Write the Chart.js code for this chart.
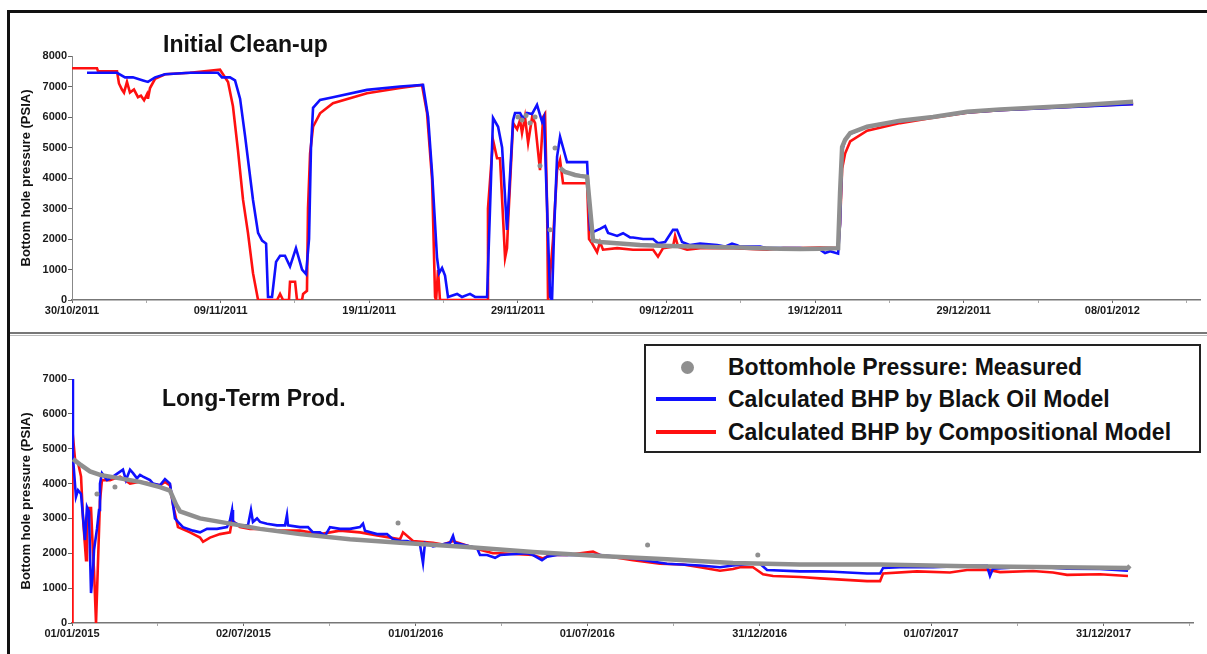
<!DOCTYPE html>
<html><head><meta charset="utf-8">
<script src="https://cdn.jsdelivr.net/npm/chart.js@4.4.0/dist/chart.umd.min.js"></script>
<style>
html,body{margin:0;padding:0;background:#fff;}
body{width:1207px;height:654px;position:relative;overflow:hidden;font-family:"Liberation Sans",Arial,sans-serif;}
canvas{position:absolute;left:0;}
#c1{top:0;}
#c2{top:336px;}
.fr{position:absolute;background:#111;}
.title{position:absolute;font-weight:bold;font-size:23px;line-height:23px;color:#111;white-space:nowrap;}
#legend{position:absolute;left:644px;top:344px;width:553px;height:105px;border:2px solid #222;background:#fff;}
#legend .txt{position:absolute;left:82px;font-weight:bold;font-size:23px;line-height:26px;color:#111;white-space:nowrap;}
#legend .dot{position:absolute;width:13px;height:13px;border-radius:50%;}
#legend .ln{position:absolute;left:10px;width:60px;height:4px;}
</style>
</head><body>
<canvas id="c1" width="1207" height="333"></canvas>
<canvas id="c2" width="1207" height="318"></canvas>
<div class="fr" style="left:7px;top:10px;width:1200px;height:3px;"></div>
<div class="fr" style="left:7px;top:10px;width:3px;height:644px;"></div>
<div class="fr" style="left:10px;top:332px;width:1197px;height:2px;background:#777;"></div>
<div class="fr" style="left:10px;top:335px;width:1197px;height:1px;background:#bbb;"></div>
<div class="title" id="t1" style="left:163px;top:33px;"></div>
<div class="title" id="t2" style="left:162px;top:387px;"></div>
<div id="legend"></div>
<script>
// ---------- labels ----------
const seriesNames = ['Bottomhole Pressure: Measured', 'Calculated BHP by Black Oil Model', 'Calculated BHP by Compositional Model'];
const panelTitles = ['Initial Clean-up', 'Long-Term Prod.'];
const yAxisTitle = 'Bottom hole pressure (PSIA)';
const seriesColors = ['#8f8f8f', '#1010ff', '#ff1010'];

// ---------- top panel: x = days since 30/10/2011 ----------
const topStart = '30/10/2011';
const topTickLabels = ['30/10/2011','09/11/2011','19/11/2011','29/11/2011','09/12/2011','19/12/2011','29/12/2011','08/01/2012'];
const topXMax = 75.9;
const topYMax = 8000;

const topBlackOil = [[1.01,7450],[3.03,7450],[3.57,7300],[4.10,7300],[4.78,7200],[5.11,7150],[5.59,7300],[6.26,7400],[7.94,7450],[9.82,7450],[10.09,7300],[10.63,7300],[10.97,7200],[11.31,6600],[11.64,5400],[12.18,3280],[12.52,2200],[12.79,1950],[13.06,1850],[13.19,100],[13.46,100],[13.73,1250],[14.00,1450],[14.33,1450],[14.67,1100],[15.07,1700],[15.48,1000],[15.75,850],[15.95,2000],[16.08,5000],[16.22,6300],[16.69,6560],[17.56,6650],[19.85,6890],[22.07,7000],[23.62,7050],[23.96,6000],[24.23,4160],[24.56,1400],[24.70,880],[24.90,1050],[25.10,800],[25.30,100],[25.91,200],[26.24,100],[26.78,200],[27.12,100],[27.93,100],[28.33,5970],[28.67,5680],[28.94,5000],[29.27,2300],[29.68,5900],[29.81,6130],[30.15,6130],[30.35,5950],[30.62,6130],[30.96,6100],[31.29,6400],[31.63,5840],[31.76,6000],[31.97,3000],[32.17,100],[32.30,0],[32.44,2300],[32.64,4700],[32.84,5350],[33.04,5000],[33.31,4520],[34.66,4520],[34.86,2300],[35.06,2230],[35.53,2330],[35.87,2420],[36.07,2200],[36.68,2100],[37.08,2190],[37.55,2050],[37.75,2050],[38.43,2000],[39.10,2000],[39.43,1860],[39.91,1900],[40.44,2300],[40.71,2300],[41.05,1900],[41.59,1800],[42.26,1850],[43.41,1800],[43.94,1750],[44.41,1850],[44.75,1800],[44.95,1750],[46.30,1750],[46.77,1700],[48.99,1700],[50.34,1650],[50.67,1540],[51.01,1600],[51.55,1520],[51.68,2500],[51.82,4900],[52.02,5250],[52.36,5450],[53.50,5680],[55.72,5850],[57.94,6000],[60.23,6150],[62.45,6220],[66.96,6320],[71.40,6420]];

const topCompositional = [[0,7600],[1.68,7600],[1.75,7500],[3.03,7500],[3.16,7100],[3.36,6900],[3.50,6800],[3.70,7150],[3.90,6800],[4.17,6900],[4.44,6650],[4.64,6700],[4.85,6550],[5.05,6750],[5.11,6600],[5.25,6950],[5.59,7250],[6.26,7400],[7.94,7450],[9.96,7550],[10.16,7400],[10.50,7150],[10.83,6350],[11.17,4900],[11.51,3280],[11.84,2200],[12.18,880],[12.52,0],[13.80,0],[14.00,200],[14.20,0],[14.60,0],[14.67,600],[15.01,600],[15.14,0],[15.48,0],[15.55,200],[15.81,300],[15.88,3000],[16.02,4800],[16.22,5680],[16.69,6120],[17.56,6450],[19.85,6780],[22.07,6950],[23.55,7050],[23.89,6130],[24.23,3935],[24.43,100],[24.50,0],[24.63,980],[24.76,0],[27.93,0],[27.99,3000],[28.33,5250],[28.60,4650],[28.80,4650],[29.14,1380],[29.27,1700],[29.34,2500],[29.68,5800],[29.95,5600],[30.15,5900],[30.28,5470],[30.48,6000],[30.69,5150],[30.96,6000],[31.16,5800],[31.49,4260],[31.70,6000],[31.83,6100],[31.97,3000],[32.03,0],[32.37,2000],[32.64,4260],[32.84,4590],[33.04,3830],[34.66,3830],[34.79,2000],[34.99,1860],[35.33,1570],[35.53,1900],[35.73,1650],[36.68,1700],[37.75,1650],[39.10,1650],[39.43,1420],[39.77,1700],[40.44,1750],[40.58,2100],[40.78,1750],[41.39,1650],[42.26,1700],[44.48,1700],[46.77,1650],[47.85,1700],[48.99,1700],[50.34,1720],[51.55,1700],[51.68,2500],[51.82,4300],[52.02,4800],[52.36,5200],[53.50,5550],[55.72,5800],[57.94,5980],[60.23,6140],[62.45,6220],[66.96,6330],[71.40,6430]];

const topMeasured = [[32.84,4330],[33.18,4200],[33.51,4150],[33.85,4100],[34.19,4070],[34.66,4040],[34.86,3000],[35.06,1950],[35.53,1900],[36.88,1850],[38.22,1800],[39.57,1780],[40.92,1760],[42.26,1750],[43.61,1730],[44.95,1720],[46.30,1700],[47.64,1680],[48.99,1670],[50.34,1680],[51.55,1700],[51.68,3500],[51.82,5020],[52.02,5250],[52.36,5470],[53.50,5680],[55.72,5880],[57.94,6000],[60.23,6170],[62.45,6250],[66.96,6360],[71.40,6500]];
const topMeasuredDots = [[30.01,6000],[30.28,5900],[30.55,6050],[30.82,5800],[31.16,6000],[31.49,4400],[32.17,2300],[32.50,4980]];

// ---------- bottom panel: x = days since 01/01/2015 ----------
const botStart = '01/01/2015';
const botTickLabels = ['01/01/2015','02/07/2015','01/01/2016','01/07/2016','31/12/2016','01/07/2017','31/12/2017'];
const botXMax = 1190;
const botYMax = 7000;

const botBlackOil = [[0,7000],[1,4760],[4.2,3620],[6.4,3810],[9.6,3700],[11.7,3040],[13.8,2380],[15.9,3330],[18.0,3200],[20.2,860],[22.3,1500],[23.4,2100],[26.5,2700],[28.7,3240],[29.7,4000],[31.8,4300],[37.2,4100],[43.5,4200],[48.8,4300],[54.1,4400],[57.3,4100],[61.6,4400],[64.8,4300],[69,4150],[72.2,4250],[75.4,4200],[82.8,4100],[86,4000],[93.4,3950],[98.7,4130],[104,4000],[107.2,3400],[109.3,3000],[112.5,2900],[117.8,2750],[128.5,2650],[135.9,2600],[143.3,2700],[153.9,2700],[164.5,2750],[167.7,2950],[169.9,3240],[170.9,2900],[178.3,2800],[186.8,2800],[190,3240],[192.1,2900],[196.4,3000],[199.6,2900],[207,2850],[217.6,2800],[226.1,2800],[228.2,3100],[229.3,2800],[242,2750],[250.5,2750],[255.8,2600],[263.3,2600],[268.6,2500],[273.9,2750],[284.5,2700],[295.1,2700],[305.7,2750],[308.9,2850],[311,2650],[323.8,2550],[334.4,2550],[340.8,2400],[348.2,2350],[355.6,2350],[369.4,2250],[372.6,1720],[374.7,2300],[383.2,2200],[401.3,2300],[404.5,2500],[406.6,2300],[429.9,2150],[433.1,1950],[440.6,1950],[449.1,1870],[454.4,1950],[483,2000],[489.4,1950],[498.9,1800],[504.2,1900],[514.9,1950],[546.7,1950],[560.5,1950],[595.5,1850],[631.6,1700],[666.7,1650],[687.9,1600],[701.7,1650],[722.9,1700],[730.4,1700],[737.8,1520],[772.8,1480],[794.1,1480],[807.9,1470],[844,1420],[857.8,1420],[861,1580],[879,1600],[914,1600],[950.1,1640],[971.3,1640],[974.5,1350],[977.7,1560],[1020.2,1620],[1056.3,1560],[1091.3,1550],[1121,1500]];

const botCompositional = [[0,0],[0.5,5500],[3.2,4700],[6.4,4600],[9.6,4200],[11.7,3000],[14.9,1800],[15.9,2700],[18.0,3300],[20.2,3300],[22.3,2000],[23.4,1500],[25.5,0],[26.5,0],[29.7,3500],[31.8,4100],[40.3,4100],[51,4200],[61.6,4000],[72.2,4050],[82.8,4000],[93.4,3950],[98.7,4050],[104,3950],[107.2,3400],[112.5,2750],[125.3,2600],[135.9,2450],[139.1,2330],[146.5,2450],[157.1,2550],[167.7,2600],[169.9,2950],[178.3,2750],[189,2700],[199.6,2700],[220.8,2650],[242,2650],[263.3,2550],[284.5,2650],[305.7,2600],[327,2500],[348.2,2400],[351.4,2600],[362,2350],[383.2,2300],[393.8,2250],[404.5,2350],[433.1,2100],[446.9,2000],[454.4,2000],[489.4,1950],[500,1850],[507.4,1950],[525.5,1950],[553.1,2050],[560.5,1950],[595.5,1800],[624.2,1700],[648.6,1680],[666.7,1600],[687.9,1500],[701.7,1550],[709.1,1600],[722.9,1600],[733.6,1400],[744.2,1350],[772.8,1320],[794.1,1280],[807.9,1260],[844,1200],[857.8,1200],[861,1420],[897,1480],[932,1450],[950.1,1520],[971.3,1530],[985.2,1460],[1020.2,1490],[1041.4,1450],[1056.3,1380],[1091.3,1400],[1121,1350]];

const botMeasured = [[1,4700],[8.5,4550],[19.1,4350],[29.7,4250],[51,4150],[72.2,4050],[93.4,3900],[104,3800],[110.4,3400],[114.7,3200],[135.9,3000],[167.7,2850],[199.6,2700],[242,2550],[295.1,2400],[348.2,2300],[419.3,2180],[489.4,2040],[560.5,1920],[631.6,1830],[701.7,1720],[772.8,1680],[857.8,1680],[950.1,1630],[1121,1580],[1123,1640]];
const botMeasuredDots = [[26.5,3700],[45.6,3900],[346.1,2870],[611,2240],[728,1950]];

// ---------- helpers ----------
const FONT = '"Liberation Sans", Arial, sans-serif';
function dayOffset(str, startStr) {
  const [d, m, y] = str.split('/').map(Number);
  const [d0, m0, y0] = startStr.split('/').map(Number);
  return Math.round((Date.UTC(y, m - 1, d) - Date.UTC(y0, m0 - 1, d0)) / 86400000);
}
function pts(arr) { return arr.map(p => ({x: p[0], y: p[1]})); }

function makeChart(id, o) {
  const majors = o.tickLabels.map(s => ({value: dayOffset(s, o.start), label: s}));
  const minors = [];
  for (let i = 0; i < majors.length - 1; i++) minors.push((majors[i].value + majors[i + 1].value) / 2);
  const lastStep = majors[majors.length - 1].value - majors[majors.length - 2].value;
  const extra = majors[majors.length - 1].value + lastStep / 2;
  if (extra < o.xMax) minors.push(extra);
  const labelMap = {};
  majors.forEach(t => { labelMap[t.value] = t.label; });

  return new Chart(document.getElementById(id), {
    type: 'line',
    data: {
      datasets: [
        {label: seriesNames[0], data: pts(o.measured), borderColor: seriesColors[0], borderWidth: 4.5, pointRadius: 0, tension: 0},
        {label: seriesNames[0], data: pts(o.measuredDots), showLine: false, borderColor: seriesColors[0], backgroundColor: seriesColors[0], pointRadius: 2.5, pointBorderWidth: 0},
        {label: seriesNames[1], data: pts(o.blackOil), borderColor: seriesColors[1], borderWidth: 2.6, pointRadius: 0, tension: 0},
        {label: seriesNames[2], data: pts(o.compositional), borderColor: seriesColors[2], borderWidth: 2.6, pointRadius: 0, tension: 0}
      ]
    },
    options: {
      responsive: false,
      animation: false,
      devicePixelRatio: 1,
      layout: {padding: {left: 0, right: o.padRight, top: o.padTop, bottom: 0}},
      plugins: {legend: {display: false}, tooltip: {enabled: false}},
      scales: {
        x: {
          type: 'linear', min: 0, max: o.xMax,
          afterBuildTicks: (scale) => {
            scale.ticks = majors.map(t => ({value: t.value, major: true})).concat(minors.map(v => ({value: v, major: false})));
            scale.ticks.sort((a, b) => a.value - b.value);
          },
          afterFit: (scale) => { scale.height = o.xAxisH; },
          ticks: {
            autoSkip: false, maxRotation: 0, minRotation: 0, padding: 1,
            font: {family: FONT, size: 11, weight: 'bold'}, color: '#1a1a1a',
            callback: (v) => (labelMap[v] !== undefined ? labelMap[v] : '')
          },
          grid: {display: true, drawOnChartArea: false, drawTicks: true, tickLength: 3,
                 tickColor: (ctx) => (ctx.tick && ctx.tick.major ? '#666' : '#aaa')},
          border: {display: true, color: '#777', width: 1.5}
        },
        y: {
          min: 0, max: o.yMax,
          afterFit: (scale) => { scale.width = 72; },
          ticks: {stepSize: 1000, padding: 1, font: {family: FONT, size: 11, weight: 'bold'}, color: '#1a1a1a',
                  callback: (v) => String(v)},
          grid: {display: true, drawOnChartArea: false, drawTicks: true, tickLength: 4, tickColor: '#666'},
          border: {display: true, color: '#888', width: 1},
          title: {display: true, text: yAxisTitle, font: {family: FONT, size: 13, weight: 'bold'}, color: '#111',
                  padding: {top: 19, bottom: 0}}
        }
      }
    }
  });
}

makeChart('c1', {start: topStart, tickLabels: topTickLabels, xMax: topXMax, yMax: topYMax,
  measured: topMeasured, measuredDots: topMeasuredDots, blackOil: topBlackOil, compositional: topCompositional,
  padTop: 56, padRight: 7, xAxisH: 33});
makeChart('c2', {start: botStart, tickLabels: botTickLabels, xMax: botXMax, yMax: botYMax,
  measured: botMeasured, measuredDots: botMeasuredDots, blackOil: botBlackOil, compositional: botCompositional,
  padTop: 43, padRight: 14, xAxisH: 31});

// titles
document.getElementById('t1').textContent = panelTitles[0];
document.getElementById('t2').textContent = panelTitles[1];

// legend (HTML, real text)
const lg = document.getElementById('legend');
const rowCenters = [21, 53, 86];
seriesNames.forEach((name, i) => {
  if (i === 0) {
    const d = document.createElement('div'); d.className = 'dot';
    d.style.left = (41 - 6.5) + 'px'; d.style.top = (rowCenters[i] - 6.5) + 'px'; d.style.background = seriesColors[i];
    lg.appendChild(d);
  } else {
    const l = document.createElement('div'); l.className = 'ln';
    l.style.top = (rowCenters[i] - 2) + 'px'; l.style.background = seriesColors[i];
    lg.appendChild(l);
  }
  const t = document.createElement('div'); t.className = 'txt';
  t.style.top = (rowCenters[i] - 13) + 'px'; t.textContent = name;
  lg.appendChild(t);
});
</script>
</body></html>
